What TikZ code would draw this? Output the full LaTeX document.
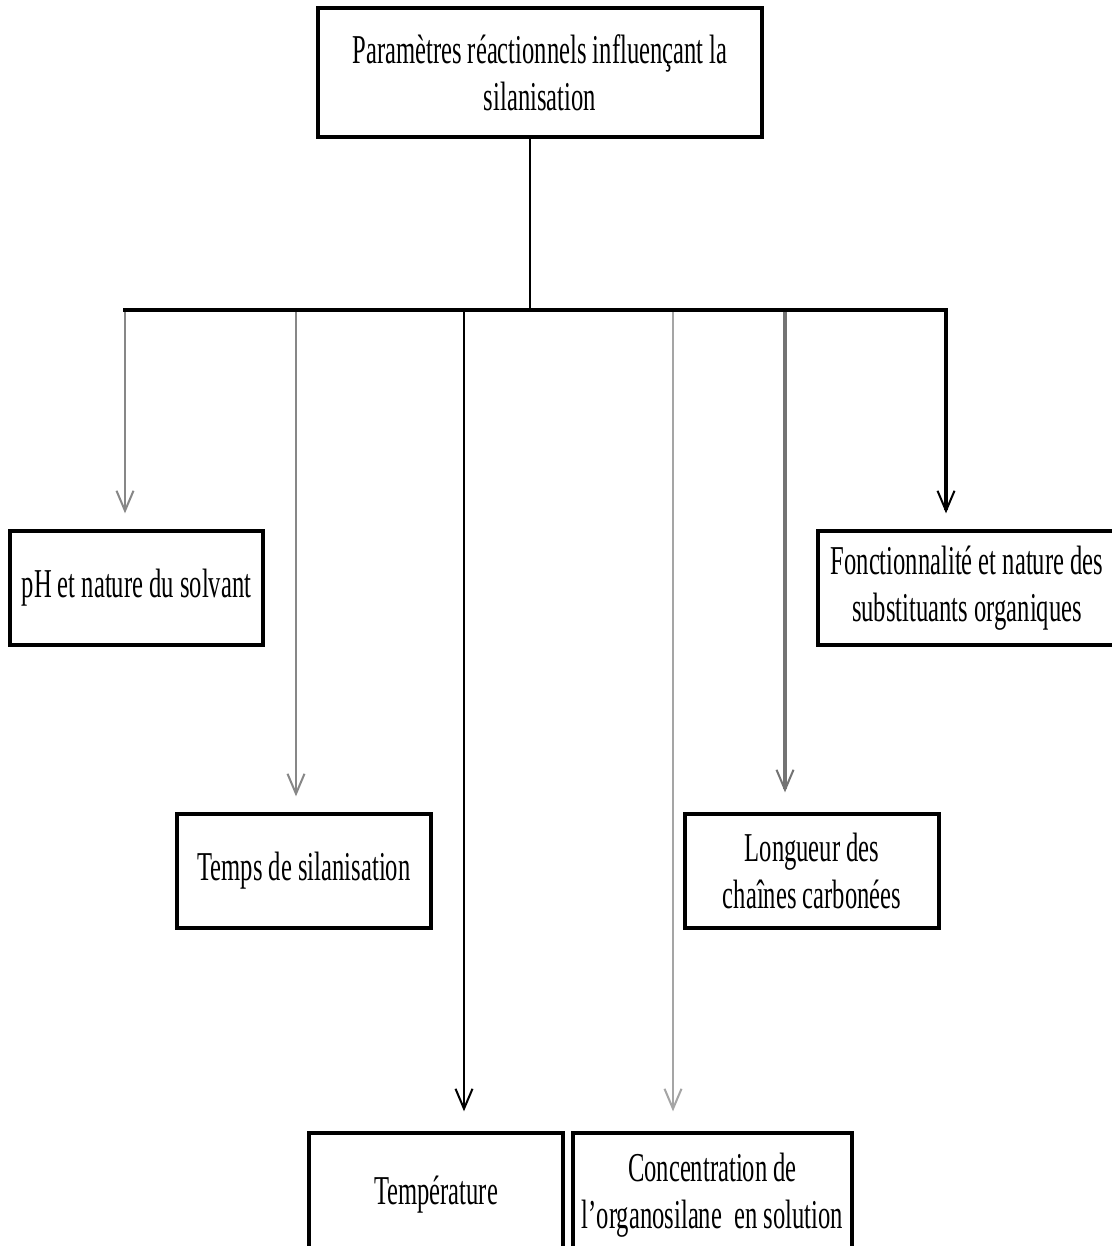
\documentclass[tikz,border=0pt]{standalone}
\usepackage{fontspec}
\newfontfamily\cf[FakeStretch=0.6]{Liberation Serif}
\usetikzlibrary{arrows.meta}
\definecolor{lgray}{RGB}{165,165,165}
\definecolor{mgray}{RGB}{135,135,135}
\definecolor{dgray}{RGB}{115,115,115}
\begin{document}
\begin{tikzpicture}[x=0.5pt,y=-0.5pt,
  box/.style={draw, line width=1.7pt, align=center, inner sep=0pt,
    font=\cf\fontsize{20.5}{23.5}\selectfont},
  conn/.style={line width=1.3pt, -{Straight Barb[length=10pt,width=8.5pt,line width=1pt]}, shorten >=8pt}]
\clip (0,0) rectangle (1112,1246);
\fill[white] (0,0) rectangle (1112,1246);
% boxes
\node[box, minimum width=222pt, minimum height=64.5pt] (top) at (540,72.5)
  {Paramètres réactionnels influençant la\\silanisation};
\node[box, minimum width=126.5pt, minimum height=57pt] (ph) at (136.5,588)
  {pH et nature du solvant};
\node[box, minimum width=127pt, minimum height=57pt] (temps) at (304,871)
  {Temps de silanisation};
\node[box, minimum width=127pt, minimum height=62pt] (temp) at (436,1195)
  {Température};
\node[box, minimum width=139.5pt, minimum height=62pt] (conc) at (712.5,1195)
  {Concentration de\\l’organosilane \ en solution};
\node[box, minimum width=127pt, minimum height=57pt] (long) at (812,871)
  {Longueur des\\chaînes carbonées};
\node[box, minimum width=149pt, minimum height=57pt] (fonc) at (967,588)
  {Fonctionnalité et nature des\\substituants organiques};
% bus
\coordinate (hub) at (530,310);
\coordinate (b1) at (125,310);
\coordinate (b2) at (296,310);
\coordinate (b3) at (464,310);
\coordinate (b4) at (673,310);
\coordinate (b5) at (785,310);
\coordinate (b6) at (946,310);
\draw[line width=1.4pt] (hub |- top.south) -- (hub);
\draw[conn, mgray] (b1) -- (b1 |- ph.north);
\draw[conn, mgray] (b2) -- (b2 |- temps.north);
\draw[conn, shorten >=10pt] (b3) -- (b3 |- temp.north);
\draw[conn, lgray, shorten >=10pt] (b4) -- (b4 |- conc.north);
\draw[conn, dgray, line width=2pt, shorten >=10pt] (b5) -- (b5 |- long.north);
\draw[conn, line width=1.6pt] (b6) -- (b6 |- fonc.north);
\draw[line width=1.8pt, line cap=rect] (b1) -- (b6);
\end{tikzpicture}
\end{document}
